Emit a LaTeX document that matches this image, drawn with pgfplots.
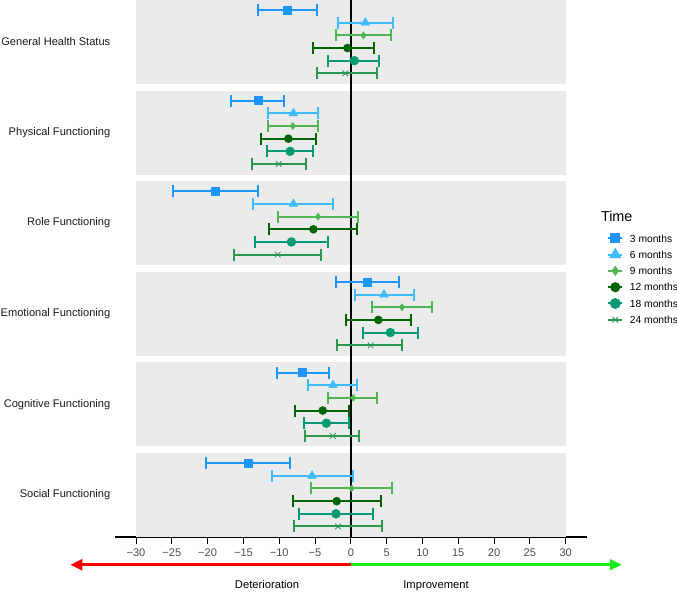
\documentclass[border=0pt]{standalone}
\usepackage{fontspec}
\setmainfont{Liberation Sans}
\usepackage{pgfplots}
\usepackage{pgfplotstable}
\pgfplotsset{compat=1.18}
\usetikzlibrary{arrows.meta}

\definecolor{c3}{HTML}{1E96FF}
\definecolor{c6}{HTML}{3DBDFF}
\definecolor{c9}{HTML}{52B452}
\definecolor{c12}{HTML}{006400}
\definecolor{c18}{HTML}{009B72}
\definecolor{c24}{HTML}{2A9650}
\definecolor{panel}{HTML}{EBEBEB}
\definecolor{ticktext}{HTML}{4D4D4D}
\definecolor{worse}{HTML}{FF0000}
\definecolor{better}{HTML}{14EE14}

% mean change and 95% CI per domain (p = 0 General Health ... 5 Social)
\pgfplotstableread{
p est lo hi
0 -8.81 -12.95 -4.76
1 -12.99 -16.76 -9.28
2 -18.90 -24.81 -12.99
3 2.26 -2.07 6.77
4 -6.72 -10.35 -3.00
5 -14.39 -20.25 -8.48
}\mthree
\pgfplotstableread{
p est lo hi
0 2.03 -1.83 5.84
1 -8.02 -11.51 -4.58
2 -8.02 -13.60 -2.44
3 4.63 0.54 8.77
4 -2.48 -5.92 0.87
5 -5.41 -10.95 0.26
}\msix
\pgfplotstableread{
p est lo hi
0 1.75 -2.07 5.61
1 -8.11 -11.51 -4.58
2 -4.58 -10.16 0.96
3 7.14 3.00 11.28
4 0.35 -3.18 3.70
5 0.12 -5.51 5.75
}\mnine
\pgfplotstableread{
p est lo hi
0 -0.48 -5.23 3.24
1 -8.72 -12.53 -4.90
2 -5.23 -11.41 0.87
3 3.84 -0.72 8.40
4 -3.93 -7.74 -0.21
5 -1.97 -8.11 4.21
}\mtwelve
\pgfplotstableread{
p est lo hi
0 0.49 -3.18 3.89
1 -8.48 -11.69 -5.32
2 -8.30 -13.37 -3.14
3 5.52 1.75 9.33
4 -3.41 -6.58 -0.30
5 -2.07 -7.18 3.10
}\meighteen
\pgfplotstableread{
p est lo hi
0 -0.77 -4.72 3.61
1 -10.07 -13.79 -6.30
2 -10.21 -16.25 -4.21
3 2.77 -1.88 7.14
4 -2.53 -6.35 1.19
5 -1.79 -7.88 4.35
}\mtwentyfour

\pgfplotsset{
  ci/.style={forget plot, only marks,
    error bars/.cd, x dir=both, x explicit,
    error bar style={line width=1.5pt, solid},
    error mark options={line width=1.5pt, mark size=4.5pt, rotate=90, solid},
    /pgfplots/.cd},
}
% rows inside each panel: one per time point, panels 7.15 rows apart
\newcommand{\ciplot}[3]{%
  \addplot[#1] table[x=est, y expr=\thisrow{p}*7.15+#2,
    x error plus expr=\thisrow{hi}-\thisrow{est},
    x error minus expr=\thisrow{est}-\thisrow{lo}] {#3};}

\begin{document}
\begin{tikzpicture}
\begin{axis}[
  width=354.45pt, height=402.75pt, scale only axis,
  xmin=-33, xmax=33, ymin=-0.79, ymax=41.58, y dir=reverse,
  clip=false,
  axis lines*=left,
  y axis line style={draw=none},
  x axis line style={line width=0.8pt},
  xtick={-30,-25,...,30},
  xticklabels={−30,−25,−20,−15,−10,−5,0,5,10,15,20,25,30},
  tick align=outside, major tick length=5pt,
  x tick style={black, line width=0.6pt},
  y tick style={draw=none},
  ytick={2.5,9.65,16.8,23.95,31.1,38.25},
  yticklabels={General Health Status, Physical Functioning, Role Functioning,
    Emotional Functioning, Cognitive Functioning, Social Functioning},
  xticklabel style={font=\fontsize{8.3}{10}\selectfont, text=ticktext},
  yticklabel style={font=\fontsize{8.3}{10}\selectfont, text=black!90, xshift=5.3pt},
  legend image code/.code={%
    \draw[mark repeat=2, mark phase=2, #1] plot coordinates {(0pt,0pt) (5.25pt,0pt) (10.5pt,0pt)};},
  legend cell align=left,
  legend style={at={(1.0421,0.5717)}, anchor=north west, draw=none, fill=none,
    inner sep=0pt, font=\fontsize{7.7}{9}\selectfont, column sep=5pt, row sep=0pt,
    nodes={inner sep=0pt, text height=8.8pt, text depth=3.4pt}},
]
% panel backgrounds
\pgfplotsinvokeforeach{0,...,5}{
  \fill[panel] (axis cs:-30,{#1*7.15-0.79}) rectangle (axis cs:30,{#1*7.15+5.83});
}
\draw[black, line width=1.5pt] (axis cs:0,-0.79) -- (axis cs:0,41.58);

\addlegendimage{c3, line width=1.5pt, mark=square*, mark size=3pt}
\addlegendentry{3 months}
\addlegendimage{c6, line width=1.5pt, mark=triangle*, mark size=3.8pt}
\addlegendentry{6 months}
\addlegendimage{c9, line width=1.5pt, mark=diamond*, mark size=2.6pt}
\addlegendentry{9 months}
\addlegendimage{c12, line width=1.5pt, mark=*, mark size=3pt}
\addlegendentry{12 months}
\addlegendimage{c18, line width=1.5pt, mark=*, mark size=3.3pt}
\addlegendentry{18 months}
\addlegendimage{c24, line width=1.5pt, mark=x, mark size=3pt, mark options={line width=0.6pt}}
\addlegendentry{24 months}

\ciplot{c3, mark=square*, mark size=3pt, ci}{0}{\mthree}
\ciplot{c6, mark=triangle*, mark size=3.8pt, ci}{1}{\msix}
\ciplot{c9, mark=diamond*, mark size=2.6pt, ci}{2}{\mnine}
\ciplot{c12, mark=*, mark size=3pt, ci}{3}{\mtwelve}
\ciplot{c18, mark=*, mark size=3.3pt, ci}{4}{\meighteen}
\ciplot{c24, mark=x, mark size=3pt, mark options={line width=0.6pt}, ci}{5}{\mtwentyfour}

% direction of change below the scale
\draw[worse, line width=2.2pt, -{Triangle[length=9pt,width=8pt]}]
  (axis cs:0,43.77) -- (axis cs:-39.18,43.77);
\draw[better, line width=2.2pt, -{Triangle[length=9pt,width=8pt]}]
  (axis cs:0,43.77) -- (axis cs:37.84,43.77);
\node[anchor=base, font=\fontsize{8.4}{10}\selectfont] at (axis cs:-11.7,45.68) {Deterioration};
\node[anchor=base, font=\fontsize{8.4}{10}\selectfont] at (axis cs:11.9,45.68) {Improvement};
\node[anchor=west, inner sep=0pt, font=\fontsize{10.8}{12}\selectfont]
  at (axis description cs:1.0288,0.5965) {Time};
\end{axis}
\pgfresetboundingbox
\path ([xshift=-85.9pt, yshift=-40.5pt]current axis.south west)
  rectangle ([xshift=67.4pt]current axis.north east);
\end{tikzpicture}
\end{document}
